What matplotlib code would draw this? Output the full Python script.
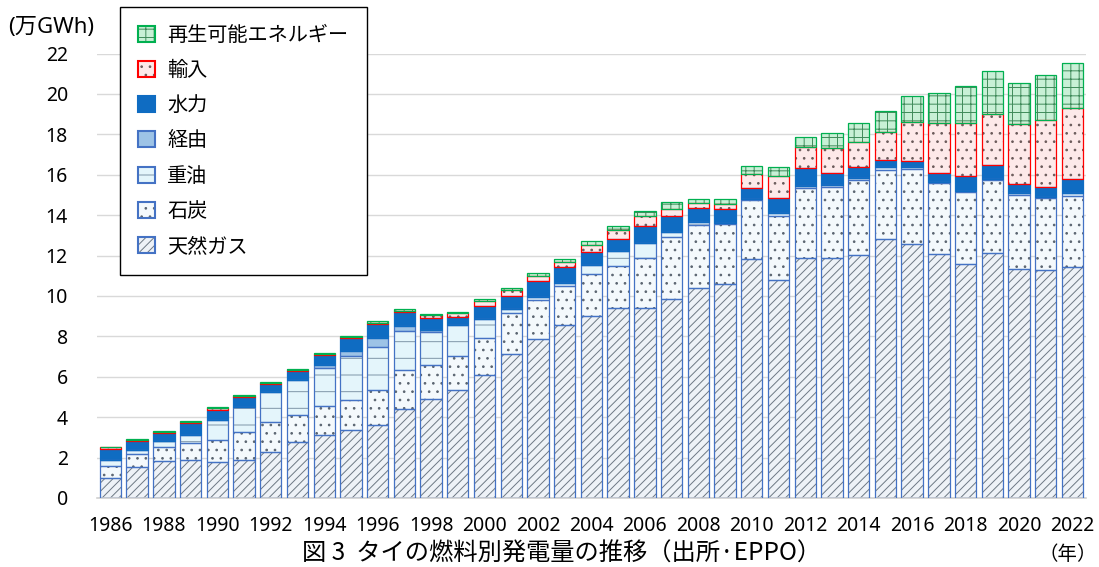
import matplotlib
matplotlib.use("Agg")
import matplotlib.pyplot as plt
from matplotlib.patches import Patch
from matplotlib.legend_handler import HandlerTuple
import numpy as np

plt.rcParams['font.family'] = ['Noto Sans', 'Noto Sans CJK JP']
plt.rcParams['hatch.linewidth'] = 0.7

years = list(range(1986, 2023))

gas = [1.00, 1.53, 1.85, 1.90, 1.77, 1.90, 2.28, 2.77, 3.14, 3.35, 3.60, 4.42,
       4.88, 5.36, 6.08, 7.11, 7.88, 8.56, 9.00, 9.42, 9.42, 9.83, 10.41,
       10.59, 11.82, 10.79, 11.90, 11.88, 12.01, 12.81, 12.57, 12.06, 11.58,
       12.11, 11.34, 11.29, 11.42]
coal = [0.57, 0.66, 0.69, 0.81, 1.10, 1.37, 1.48, 1.34, 1.40, 1.52, 1.76, 1.90,
        1.68, 1.66, 1.85, 2.06, 1.92, 1.94, 2.07, 2.07, 2.46, 3.10, 3.09,
        2.96, 2.93, 3.17, 3.46, 3.53, 3.73, 3.43, 3.70, 3.55, 3.55, 3.63,
        3.68, 3.54, 3.55]
oil = [0.29, 0.20, 0.26, 0.43, 0.97, 1.23, 1.47, 1.75, 1.90, 2.18, 2.12, 1.93,
       1.64, 1.53, 0.95, 0.20, 0.17, 0.16, 0.48, 0.72, 0.76, 0.24, 0.14,
       0.05, 0.05, 0.13, 0.10, 0.09, 0.12, 0.13, 0.10, 0.05, 0.05, 0.07,
       0.06, 0.08, 0.11]
transit = [0, 0, 0, 0, 0, 0, 0, 0, 0.16, 0.21, 0.44, 0.25,
           0.10, 0, 0, 0, 0, 0, 0, 0, 0, 0, 0,
           0, 0, 0, 0, 0, 0, 0, 0, 0, 0, 0, 0, 0, 0]
hydro = [0.58, 0.41, 0.42, 0.57, 0.53, 0.50, 0.43, 0.43, 0.50, 0.64, 0.71, 0.69,
         0.63, 0.41, 0.62, 0.63, 0.77, 0.79, 0.63, 0.63, 0.80, 0.80, 0.69,
         0.71, 0.56, 0.78, 0.86, 0.57, 0.54, 0.36, 0.31, 0.44, 0.76, 0.66,
         0.46, 0.47, 0.71]
imports = [0.10, 0.06, 0.05, 0.05, 0.06, 0.05, 0.05, 0.04, 0.05, 0.05, 0.05, 0.07,
           0.12, 0.20, 0.27, 0.30, 0.26, 0.25, 0.32, 0.43, 0.53, 0.33, 0.27,
           0.24, 0.70, 1.07, 1.04, 1.24, 1.24, 1.40, 1.95, 2.45, 2.64, 2.53,
           2.96, 3.33, 3.53]
renew = [0.00, 0.06, 0.05, 0.05, 0.07, 0.05, 0.05, 0.06, 0.05, 0.08, 0.08, 0.08,
         0.08, 0.06, 0.10, 0.10, 0.12, 0.13, 0.24, 0.18, 0.23, 0.36, 0.20,
         0.25, 0.39, 0.43, 0.53, 0.78, 0.94, 1.04, 1.29, 1.52, 1.83, 2.15,
         2.06, 2.23, 2.23]

# (label, values, face, hatch, hatch colour, frame colour)
series = [
    ("天然ガス", gas, "#eef2f7", "////", "#6d7884", "#4472c4"),
    ("石炭", coal, "#f4f9fc", "..", "#5a6470", "#4472c4"),
    ("重油", oil, "#e4f5fb", "-", "#7f95a8", "#4472c4"),
    ("経由", transit, "#9dc3e6", "", "#9dc3e6", "#4472c4"),
    ("水力", hydro, "#0f6cc2", "", "#0f6cc2", "#0f6cc2"),
    ("輸入", imports, "#fde9e9", "..", "#6a5a5a", "#ff0000"),
    ("再生可能エネルギー", renew, "#c8f0d6", "++", "#3f8a5a", "#00b050"),
]

fig = plt.figure(figsize=(10.99, 5.67), dpi=100)
ax = fig.add_axes([0.0883, 0.1217, 0.8997, 0.7839])

x = np.array(years)
bottom = np.zeros(len(years))
handles = []
for label, vals, face, hatch, hcol, ecol in series:
    vals = np.array(vals)
    # hatch layer, then a separate frame so hatch and edge colours differ
    ax.bar(x, vals, 0.8, bottom=bottom, color=face, hatch=hatch,
           edgecolor=hcol, linewidth=0, zorder=2)
    ax.bar(x, vals, 0.8, bottom=bottom, fill=False, edgecolor=ecol,
           linewidth=0.9, zorder=3)
    bottom += vals
    handles.append((Patch(facecolor=face, hatch=hatch, edgecolor=hcol, linewidth=0),
                    Patch(fill=False, edgecolor=ecol, linewidth=1.5)))

ax.set_xlim(1985.5, 2022.5)
ax.set_ylim(0, 22)
ax.set_yticks(range(0, 23, 2))
ax.set_xticks(range(1986, 2023, 2))
ax.tick_params(axis='both', length=0, labelsize=14)
ax.tick_params(axis='x', pad=13)
ax.tick_params(axis='y', pad=21)
ax.grid(axis='y', color='#d9d9d9', linewidth=1.0, zorder=0)
ax.set_axisbelow(True)
for s in ['top', 'right', 'left']:
    ax.spines[s].set_visible(False)
ax.spines['bottom'].set_color('#d0d0d0')
ax.spines['bottom'].set_linewidth(1.2)

leg = ax.legend(handles[::-1], [s[0] for s in series][::-1],
                handler_map={tuple: HandlerTuple(ndivide=1, pad=0)},
                loc='upper left', bbox_to_anchor=(120 / 1099, 1 - 7 / 567),
                bbox_transform=fig.transFigure, borderaxespad=0,
                prop={'family': 'Noto Sans CJK JP', 'size': 14.5},
                handlelength=0.85, handleheight=0.85, handletextpad=0.6,
                labelspacing=0.7, borderpad=0.9, fancybox=False,
                framealpha=1, edgecolor='black')
leg.get_frame().set_linewidth(1.0)
leg.set_zorder(5)

fig.text(8 / 1099, 1 - 27 / 567, "(万GWh)", fontsize=16, va='center', ha='left')
fig.text(562 / 1099, 1 - 554 / 567, "図 3  タイの燃料別発電量の推移（出所·EPPO）",
         fontsize=17.5, va='center', ha='center', family=['Noto Sans CJK JP'])
fig.text(1097 / 1099, 1 - 554 / 567, "（年）", fontsize=14, va='center',
         ha='right', family=['Noto Sans CJK JP'])

fig.savefig("out.png", dpi=100)
